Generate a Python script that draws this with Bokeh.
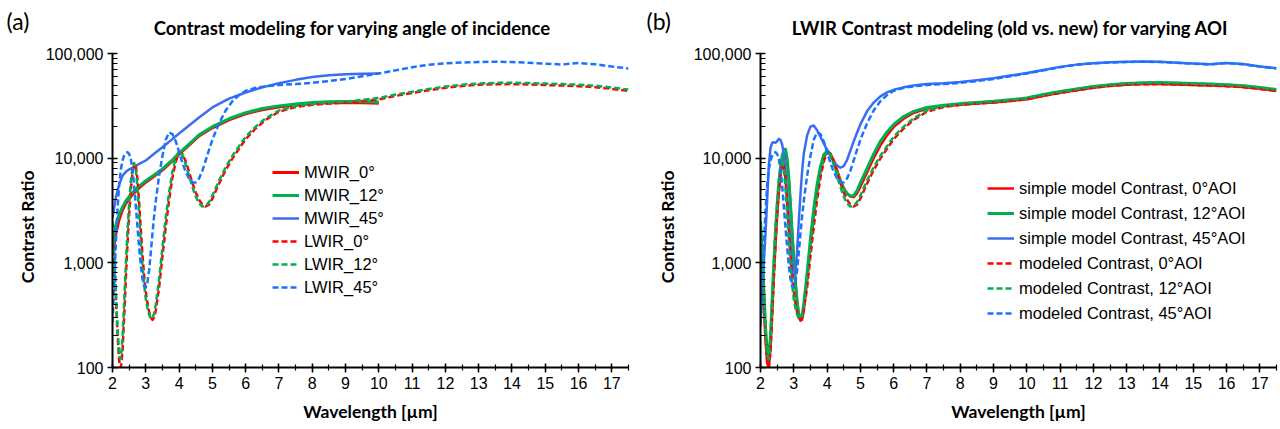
import math
from bokeh.plotting import figure
from bokeh.layouts import row, column
from bokeh.models import Legend, LegendItem, FixedTicker, SingleIntervalTicker, NumeralTickFormatter, Range1d
from bokeh.core.properties import value
from bokeh.embed import file_html
from bokeh.resources import INLINE

# ---------------- data ----------------
lwir_wl = [2.0, 2.05, 2.1, 2.15, 2.2, 2.25, 2.3, 2.35, 2.4, 2.45, 2.5, 2.55, 2.6, 2.65, 2.7, 2.75,
           2.8, 2.85, 2.9, 2.95, 3.0, 3.05, 3.1, 3.15, 3.2, 3.25, 3.3,
           3.4, 3.5, 3.6, 3.7, 3.8, 3.9, 4.0, 4.1, 4.2, 4.3, 4.4, 4.5, 4.6, 4.7, 4.8, 4.9, 5.0,
           5.2, 5.4, 5.6, 5.8, 6.0, 6.3, 6.6,
           7.0, 7.5, 8.0, 8.5, 9.0, 9.5, 10.0, 10.5, 11.0, 11.5, 12.0, 12.5, 13.0, 13.5, 14.0,
           14.5, 15.0, 15.5, 16.0, 16.5, 17.0, 17.5]

lwir_0 = [2000, 1100, 470, 210, 115, 100, 140, 300, 700, 1500, 2900, 4900, 7200, 8700, 8400, 6300,
          3800, 2100, 1200, 760, 530, 410, 340, 300, 285, 300, 350,
          580, 1150, 2200, 4000, 6500, 9300, 11300, 11000, 9300, 7400, 5800, 4700, 4000, 3600, 3450, 3600, 4100,
          5700, 7700, 9900, 12300, 15200, 19200, 23200,
          27800, 30800, 32300, 33200, 34000, 35100, 36500, 39300, 42000, 44500, 47000, 49000, 50300, 50900, 51000,
          50600, 50000, 49400, 48700, 47700, 45900, 43800]

lwir_12 = [2500, 1300, 550, 240, 130, 120, 190, 420, 950, 2000, 3700, 6000, 8200, 9000, 7800, 5200,
           2900, 1600, 950, 620, 450, 370, 320, 295, 295, 330, 400,
           700, 1400, 2700, 4700, 7400, 10200, 11600, 10700, 8700, 6800, 5300, 4300, 3700, 3450, 3500, 3800, 4400,
           6100, 8200, 10500, 13000, 16000, 20000, 24000,
           28500, 31500, 33000, 34000, 34800, 36000, 37500, 40500, 43200, 45800, 48300, 50300, 51700, 52400, 52600,
           52200, 51600, 51000, 50300, 49200, 47300, 45200]

lwir_45 = [270, 600, 1500, 3200, 5500, 7800, 9500, 10600, 11200, 11400, 11000, 9800, 7800, 5500, 3500, 2200,
           1400, 950, 700, 600, 580, 650, 850, 1250, 1900, 2800, 3900,
           6800, 10500, 15000, 17600, 17000, 14500, 11500, 9000, 7400, 6400, 5900, 5850, 6400, 7600, 9500, 12000, 15000,
           21500, 28500, 35000, 40000, 44000, 47000, 48500,
           50000, 51000, 52500, 54500, 57000, 60500, 64500, 69000, 74000, 78000, 80500, 82000, 83000, 83500, 83000,
           81500, 80000, 78500, 81000, 79000, 75000, 72000]

simple_0 = [1900, 900, 380, 180, 110, 100, 150, 330, 750, 1500, 2800, 4600, 6800, 9000, 10500, 10800,
            9200, 6300, 3700, 2000, 1150, 680, 440, 320, 280, 285, 350,
            680, 1400, 2800, 4800, 7400, 10000, 11400, 11000, 9500, 7700, 6200, 5200, 4600, 4300, 4250, 4600, 5300,
            7300, 10000, 13200, 16500, 19800, 23800, 27000,
            29800, 31300, 32400, 33300, 34100, 35200, 36600, 39400, 42100, 44600, 47100, 49100, 50400, 51000, 51100,
            50700, 50100, 49500, 48800, 47800, 46000, 43900]

simple_12 = [2500, 1300, 550, 250, 140, 125, 200, 450, 1000, 2000, 3600, 5800, 8200, 10500, 12000, 12200,
             10000, 6500, 3600, 1900, 1050, 620, 420, 320, 290, 310, 400,
             800, 1700, 3300, 5600, 8300, 10800, 11800, 11000, 9200, 7400, 6000, 5100, 4600, 4350, 4400, 4900, 5800,
             8000, 11000, 14500, 17800, 21000, 25000, 28000,
             30500, 32000, 33200, 34100, 34900, 36100, 37600, 40600, 43300, 45900, 48400, 50400, 51800, 52500, 52700,
             52300, 51700, 51100, 50400, 49300, 47400, 45300]

simple_45 = [250, 500, 1000, 1900, 4000, 8500, 12500, 14000, 14200, 14000, 14500, 15300, 15000, 13500, 11000, 7500,
             4500, 2500, 1500, 950, 750, 800, 1300, 2500, 4500, 7500, 11000,
             16500, 20000, 20500, 18500, 16000, 13800, 12000, 10500, 9300, 8500, 8100, 8400, 9600, 11800, 14500, 17500, 21000,
             28000, 34000, 39000, 42500, 45000, 47500, 49500,
             51000, 52000, 53500, 55500, 58000, 61500, 65000, 69500, 74500, 78300, 80800, 82300, 83300, 83800, 83300,
             81800, 80300, 78800, 81300, 79300, 75300, 72300]

mwir_wl = [2.0, 2.1, 2.2, 2.3, 2.4, 2.5, 2.6, 2.8, 3.0, 3.25, 3.5, 3.75, 4.0, 4.3, 4.6, 5.0,
           5.5, 6.0, 6.5, 7.0, 7.5, 8.0, 8.5, 9.0, 9.5, 10.0]
mwir_0 = [1200, 1900, 2600, 3200, 3700, 4100, 4500, 5200, 5900, 6700, 7700, 9100, 10900, 13300, 16300, 19500,
          23200, 26500, 29000, 30800, 32200, 33300, 33900, 34100, 33900, 33400]
mwir_12 = [1600, 2300, 2900, 3400, 3900, 4300, 4700, 5400, 6100, 6900, 7900, 9300, 11200, 13600, 16700, 20000,
           23800, 27200, 29800, 31600, 33000, 34000, 34600, 34800, 34700, 34400]
mwir_45 = [2700, 4200, 5600, 6800, 7400, 7800, 8100, 8800, 9500, 11000, 12700, 14800, 17200, 20500, 24500, 30500,
           37000, 42400, 47500, 52000, 56000, 59500, 62000, 63300, 64000, 64500]

labels_a = ["MWIR_0°", "MWIR_12°", "MWIR_45°", "LWIR_0°", "LWIR_12°", "LWIR_45°"]
labels_b = ["simple model Contrast, 0°AOI", "simple model Contrast, 12°AOI", "simple model Contrast, 45°AOI",
            "modeled Contrast, 0°AOI", "modeled Contrast, 12°AOI", "modeled Contrast, 45°AOI"]
panel_tags = ["(a)", "(b)"]
panel_titles = ["Contrast modeling for varying angle of incidence",
                "LWIR Contrast modeling (old vs. new) for varying AOI"]
y_title = "Contrast Ratio"
x_title = "Wavelength [µm]"
y_ticks = [100, 1000, 10000, 100000]
y_minor = [m * 10 ** e for e in (2, 3, 4) for m in range(2, 10)]

RED = "#FF0000"
GREEN = "#00B050"
BLUE_S = "#3C6CF0"
BLUE_D = "#1A73FF"
TICK_FONT = "Liberation Sans"
HEAD_FONT = "Lato"
HDR_H = 45
BODY_H = 429 - HDR_H
SIDE_W = 38


def make_fig(width, left, right):
    p = figure(width=width, height=BODY_H, x_range=(2, 17.5), y_range=(100, 100000), y_axis_type="log",
               output_backend="svg", toolbar_location=None,
               min_border_left=left, min_border_right=right, min_border_top=53 - HDR_H, min_border_bottom=62)
    p.outline_line_color = None
    p.xgrid.visible = False
    p.ygrid.visible = False
    p.xaxis.ticker = SingleIntervalTicker(interval=1, num_minor_ticks=2)
    p.yaxis.ticker = FixedTicker(ticks=y_ticks, minor_ticks=y_minor)
    p.yaxis.formatter = NumeralTickFormatter(format="0,0")
    for ax in (p.xaxis[0], p.yaxis[0]):
        ax.axis_line_color = "black"
        ax.axis_line_width = 2
        ax.major_tick_line_color = "black"
        ax.major_tick_line_width = 1.5
        ax.minor_tick_line_color = "black"
        ax.minor_tick_line_width = 1.2
        ax.major_label_text_font = TICK_FONT
        ax.major_label_text_font_size = "16px"
        ax.major_label_text_color = "black"
        ax.axis_label_text_font = HEAD_FONT
        ax.axis_label_text_font_style = "bold"
        ax.axis_label_text_font_size = "17.5px"
        ax.axis_label_text_color = "black"
    p.xaxis.major_tick_in = 4
    p.xaxis.major_tick_out = 5
    p.xaxis.minor_tick_in = 3
    p.xaxis.minor_tick_out = 3
    p.xaxis.major_label_standoff = 4
    p.xaxis.axis_label = x_title
    p.xaxis.axis_label_standoff = 9
    p.yaxis.major_tick_in = 5
    p.yaxis.major_tick_out = 5
    p.yaxis.minor_tick_in = 5
    p.yaxis.minor_tick_out = 0
    p.yaxis.major_label_standoff = 4
    return p


def make_side():
    s = figure(width=SIDE_W, height=BODY_H, x_range=Range1d(0, SIDE_W), y_range=Range1d(0, BODY_H),
               output_backend="svg", toolbar_location=None,
               min_border_left=0, min_border_right=0, min_border_top=0, min_border_bottom=0)
    s.axis.visible = False
    s.grid.visible = False
    s.outline_line_color = None
    s.text(x=[27], y=[BODY_H - (257 - HDR_H)], text=[y_title], angle=math.pi / 2,
           text_font=value(HEAD_FONT), text_font_style="bold", text_font_size="17.5px",
           text_color="black", text_baseline="middle", text_align="center")
    return s


def add_legend(p, items, loc, row_h, spacing):
    leg = Legend(items=items, location=loc, orientation="vertical",
                 border_line_alpha=0, background_fill_alpha=0, padding=0, margin=0,
                 spacing=spacing, glyph_width=27, glyph_height=row_h, label_height=row_h,
                 label_standoff=5, label_text_font=TICK_FONT, label_text_font_size="16.5px",
                 label_text_color="black")
    p.add_layout(leg)


# ---------------- header (panel tags and titles) ----------------
hdr = figure(width=1280, height=HDR_H, x_range=Range1d(0, 1280), y_range=Range1d(HDR_H, 0),
             output_backend="svg", toolbar_location=None,
             min_border_left=0, min_border_right=0, min_border_top=0, min_border_bottom=0)
hdr.axis.visible = False
hdr.grid.visible = False
hdr.outline_line_color = None
hdr.text(x=[6, 646], y=[20, 20], text=panel_tags, text_font=value(HEAD_FONT), text_font_size="23px",
         text_color="black", text_baseline="middle", text_align="left")
hdr.text(x=[352, 1010], y=[27, 27], text=panel_titles, text_font=value(HEAD_FONT), text_font_style="bold",
         text_font_size="18.5px", text_color="black", text_baseline="middle", text_align="center")

# ---------------- panel (a) ----------------
pa = make_fig(640 - SIDE_W, 112 - SIDE_W, 12)
series_a = [
    (mwir_wl, mwir_0, RED, "solid", 3),
    (mwir_wl, mwir_12, GREEN, "solid", 3),
    (mwir_wl, mwir_45, BLUE_S, "solid", 2.5),
    (lwir_wl, lwir_0, RED, "6 3", 2.5),
    (lwir_wl, lwir_12, GREEN, "6 3", 2.5),
    (lwir_wl, lwir_45, BLUE_D, "6 3", 2.5),
]
items_a = []
for (xs, ys, col, dash, lw), lab in zip(series_a, labels_a):
    r = pa.line(xs, ys, line_color=col, line_width=lw, line_dash=dash, line_join="round")
    items_a.append(LegendItem(label=lab, renderers=[r]))
add_legend(pa, items_a, (160, 70), 20, 3)

# ---------------- panel (b) ----------------
pb = make_fig(640 - SIDE_W, 120 - SIDE_W, 4)
series_b = [
    (lwir_wl, simple_0, RED, "solid", 2.5),
    (lwir_wl, simple_12, GREEN, "solid", 3),
    (lwir_wl, simple_45, BLUE_S, "solid", 2.5),
    (lwir_wl, lwir_0, RED, "6 3", 2.5),
    (lwir_wl, lwir_12, GREEN, "6 3", 2.5),
    (lwir_wl, lwir_45, BLUE_D, "6 3", 2.5),
]
items_b = []
for (xs, ys, col, dash, lw), lab in zip(series_b, labels_b):
    r = pb.line(xs, ys, line_color=col, line_width=lw, line_dash=dash, line_join="round")
    items_b.append(LegendItem(label=lab, renderers=[r]))
add_legend(pb, items_b, (227, 43), 22, 3)

layout = column(hdr, row(make_side(), pa, make_side(), pb))
open("out.html", "w").write(file_html(layout, INLINE))
